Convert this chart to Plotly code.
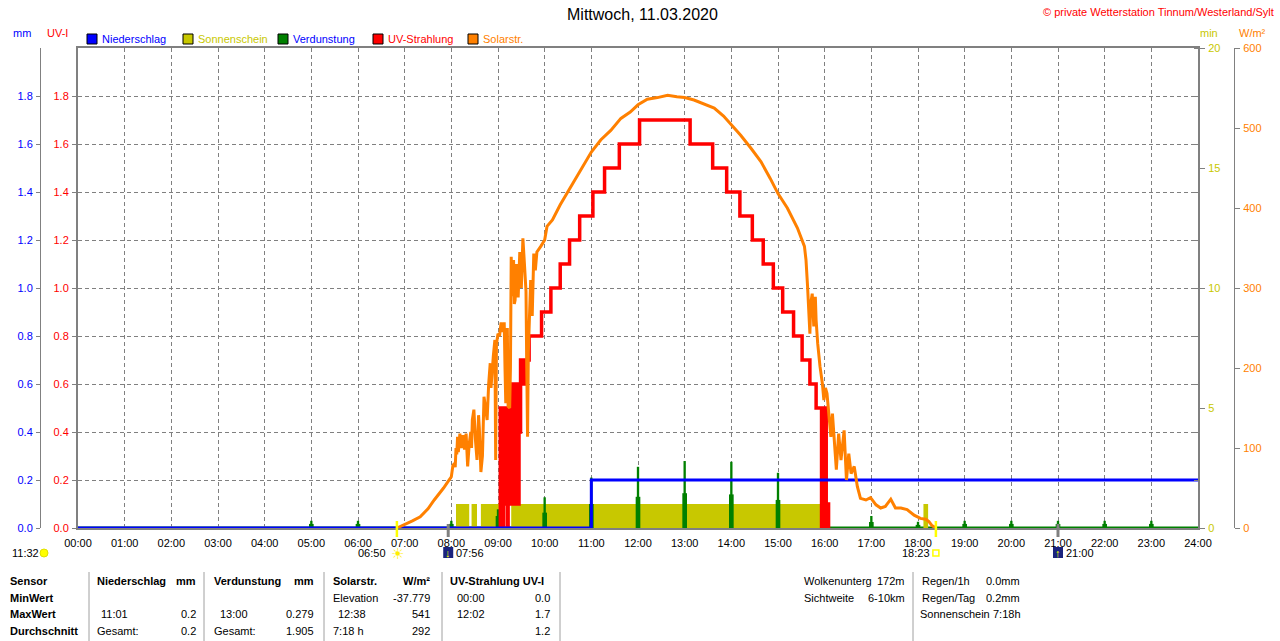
import plotly.graph_objects as go

# --- data -----------------------------------------------------------------
hour_ticks = list(range(25))
hour_labels = ["%02d:00" % h for h in hour_ticks]
mm_ticks = [0, 0.2, 0.4, 0.6, 0.8, 1.0, 1.2, 1.4, 1.6, 1.8]
mm_labels = ["0.0", "0.2", "0.4", "0.6", "0.8", "1.0", "1.2", "1.4", "1.6", "1.8"]
min_ticks = [0, 5, 10, 15, 20]
wm2_ticks = [0, 100, 200, 300, 400, 500, 600]

# Niederschlag (mm, cumulative)
rain_times = ["00:00", "11:00", "24:00"]
rain_vals = [0.0, 0.2, 0.2]

# Sonnenschein (min) as intervals
sun_start = ["08:06", "08:26", "08:38", "09:17", "18:07"]
sun_end = ["08:23", "08:33", "09:03", "15:58", "18:13"]
sun_vals = [1, 1, 1, 1, 1]

# Verdunstung (mm) hourly spikes
verd_times = ["05:00", "06:00", "08:00", "09:00", "10:00", "11:00", "12:00", "13:00",
              "14:00", "15:00", "16:00", "17:00", "18:00", "19:00", "20:00", "21:00",
              "22:00", "23:00"]
verd_vals = [0.03, 0.03, 0.03, 0.078, 0.128, 0.21, 0.255, 0.279,
             0.276, 0.23, 0.186, 0.05, 0.026, 0.03, 0.03, 0.03, 0.03, 0.03]
verd_low = [0.017, 0.017, 0.017, 0.05, 0.064, 0.10, 0.13, 0.145,
            0.14, 0.117, 0.10, 0.025, 0.013, 0.017, 0.017, 0.017, 0.017, 0.017]

# UV-Strahlung (UV-I)
uv_times = ["09:02", "09:03", "09:04", "09:05", "09:06", "09:07", "09:08", "09:09", "09:10",
            "09:11", "09:12", "09:13", "09:14", "09:15", "09:16", "09:17", "09:18", "09:19",
            "09:20", "09:21", "09:22", "09:23", "09:24", "09:25", "09:26", "09:27", "09:28",
            "09:29", "09:30", "09:31", "09:32", "09:33", "09:34", "09:35", "09:36", "09:37",
            "09:38", "09:39", "09:40", "09:56", "10:08", "10:20", "10:32", "10:45", "11:02",
            "11:17", "11:36", "12:02", "13:07", "13:36", "13:54", "14:11", "14:27", "14:41",
            "14:54", "15:06", "15:20", "15:31", "15:41", "15:49", "15:56", "15:57", "15:58",
            "15:59", "16:00", "16:01", "16:02", "16:03", "16:05"]
uv_vals = [0.0, 0.5, 0.1, 0.5, 0.0, 0.5, 0.1, 0.5, 0.1,
           0.5, 0.0, 0.5, 0.1, 0.5, 0.1, 0.6, 0.1, 0.6,
           0.1, 0.6, 0.1, 0.6, 0.1, 0.6, 0.1, 0.6, 0.4,
           0.7, 0.6, 0.7, 0.6, 0.7, 0.6, 0.7, 0.6, 0.7,
           0.8, 0.7, 0.8, 0.9, 1.0, 1.1, 1.2, 1.3, 1.4,
           1.5, 1.6, 1.7, 1.6, 1.5, 1.4, 1.3, 1.2, 1.1,
           1.0, 0.9, 0.8, 0.7, 0.6, 0.5, 0.0, 0.5, 0.0,
           0.5, 0.1, 0.5, 0.0, 0.1, 0.0]

# Solarstrahlung (W/m²)
solar_times = ["06:50", "06:55", "07:00", "07:10", "07:20", "07:30", "07:38", "07:45", "07:50",
               "07:55", "08:00", "08:02", "08:04", "08:05", "08:06", "08:07", "08:08", "08:09",
               "08:11", "08:12", "08:13", "08:15", "08:17", "08:19", "08:20", "08:21", "08:23",
               "08:25", "08:26", "08:27", "08:29", "08:30", "08:31", "08:33", "08:35", "08:36",
               "08:38", "08:40", "08:42", "08:44", "08:46", "08:48", "08:50", "08:51", "08:52",
               "08:54", "08:56", "08:57", "08:58", "09:00", "09:02", "09:04", "09:06", "09:08",
               "09:09", "09:10", "09:12", "09:13", "09:15", "09:16", "09:17", "09:18", "09:19",
               "09:20", "09:21", "09:22", "09:24", "09:25", "09:26", "09:28", "09:30", "09:32",
               "09:34", "09:36", "09:37", "09:38", "09:39", "09:40", "09:42", "09:44", "09:46",
               "09:48", "09:50", "09:55", "10:00", "10:03", "10:10", "10:20", "10:34", "10:46",
               "11:00", "11:12", "11:25", "11:38", "11:50", "12:00", "12:12", "12:25", "12:38",
               "12:50", "13:00", "13:12", "13:25", "13:38", "13:50", "14:00", "14:12", "14:25",
               "14:38", "14:50", "15:00", "15:12", "15:25", "15:34", "15:36", "15:38", "15:41",
               "15:42", "15:44", "15:46", "15:48", "15:49", "15:51", "15:54", "15:57", "15:59",
               "16:01", "16:03", "16:06", "16:08", "16:10", "16:13", "16:15", "16:18", "16:21",
               "16:25", "16:28", "16:31", "16:34", "16:38", "16:42", "16:46", "16:53", "16:59",
               "17:06", "17:12", "17:18", "17:25", "17:31", "17:38", "17:46", "17:55", "18:03",
               "18:10", "18:14", "18:18", "18:23"]
solar_vals = [0, 2, 4, 9, 14, 24, 35, 43, 50,
              57, 64, 78, 81, 76, 100, 92, 114, 95,
              118, 104, 100, 116, 98, 118, 96, 77, 105,
              120, 100, 135, 148, 125, 110, 85, 141, 125,
              70, 90, 164, 150, 135, 180, 206, 175, 190,
              215, 235, 85, 230, 243, 240, 257, 245, 257,
              200, 156, 250, 152, 150, 200, 339, 290, 300,
              335, 280, 285, 330, 290, 290, 345, 300, 362,
              330, 296, 200, 114, 220, 260, 310, 265, 343,
              322, 345, 352, 360, 377, 385, 404, 427, 447,
              470, 485, 497, 512, 520, 529, 536, 538, 541,
              539, 538, 535, 530, 525, 515, 504, 491, 475,
              458, 437, 418, 400, 375, 352, 335, 302, 243,
              280, 293, 252, 289, 260, 231, 202, 181, 160,
              175, 168, 135, 114, 143, 102, 73, 118, 85,
              122, 60, 93, 68, 77, 52, 37, 35, 38,
              29, 25, 27, 36, 25, 25, 23, 16, 12,
              11, 8, 3, 0]

# sun / moon events below the time axis
sun_events = ["06:50", "18:23"]
moon_events = ["07:56", "21:00"]

# --- helpers ----------------------------------------------------------------
W, H = 1280, 641
L, R, T, B = 78, 1198, 48, 528   # plot area in pixels
FONT = "Arial, Liberation Sans, sans-serif"
GRID = "#808080"
YEL = "#c8c800"
ORANGE = "#ff8000"


def hrs(t):
    h, m = t.split(":")
    return int(h) + int(m) / 60


def px(x):
    return x / W


def py(y):
    return (B - y) / (B - T)


fig = go.Figure()

sun_mid = [(hrs(a) + hrs(b)) / 2 for a, b in zip(sun_start, sun_end)]
sun_w = [hrs(b) - hrs(a) for a, b in zip(sun_start, sun_end)]
fig.add_trace(go.Bar(x=sun_mid, y=sun_vals, width=sun_w, marker_color=YEL,
                     marker_line_width=0, yaxis="y", name="Sonnenschein"))

vx = [hrs(t) for t in verd_times]
fig.add_trace(go.Bar(x=vx, y=verd_low, width=0.1, marker_color="#008000",
                     marker_line_width=0, yaxis="y2", name="Verdunstung"))
fig.add_trace(go.Bar(x=vx, y=verd_vals, width=0.05, marker_color="#008000",
                     marker_line_width=0, yaxis="y2", name="Verdunstung"))

fig.add_trace(go.Scatter(x=[hrs(t) for t in uv_times], y=uv_vals, mode="lines",
                         line=dict(color="#ff0000", width=3.5, shape="hv"),
                         yaxis="y2", name="UV-Strahlung"))

fig.add_trace(go.Scatter(x=[hrs(t) for t in rain_times], y=rain_vals, mode="lines",
                         line=dict(color="#0000ff", width=3, shape="hv"),
                         yaxis="y3", name="Niederschlag"))

fig.add_trace(go.Scatter(x=[hrs(t) for t in solar_times], y=solar_vals, mode="lines",
                         line=dict(color=ORANGE, width=3),
                         yaxis="y4", name="Solarstr."))

# green zero line of the evaporation series
fig.add_shape(type="line", xref="x", yref="y2", x0=0, x1=24, y0=0, y1=0,
              line=dict(color="#008000", width=3), layer="below")

fig.update_layout(
    width=W, height=H, autosize=False,
    margin=dict(l=0, r=0, t=T, b=H - B),
    plot_bgcolor="white", paper_bgcolor="white",
    showlegend=False, barmode="overlay", hovermode=False,
    font=dict(family=FONT, size=11, color="black"),
    xaxis=dict(domain=[px(L), px(R)], range=[0, 24], tickvals=hour_ticks,
               ticktext=hour_labels, showgrid=True, gridcolor=GRID, griddash="4px,3px",
               gridwidth=1, showline=True, mirror=True, linecolor=GRID, linewidth=2,
               ticks="", ticklabelstandoff=4, zeroline=False, automargin=False),
    yaxis=dict(range=[0, 20], tickvals=min_ticks, side="right", anchor="x",
               tickfont=dict(color=YEL), showgrid=False, zeroline=False,
               showline=True, mirror=True, linecolor=GRID, linewidth=2,
               ticks="outside", ticklen=5, tickcolor=GRID, ticklabelstandoff=1,
               minor=dict(ticks="inside", dtick=2, ticklen=4, tickcolor=GRID),
               automargin=False),
    yaxis2=dict(range=[0, 2], tickvals=mm_ticks, ticktext=mm_labels, side="left",
                overlaying="y", anchor="x", tickfont=dict(color="#ff0000"),
                showgrid=True, gridcolor=GRID, griddash="4px,3px", zeroline=False,
                ticks="outside", ticklen=5, tickcolor=GRID, ticklabelstandoff=1,
                automargin=False),
    yaxis3=dict(range=[0, 2], tickvals=mm_ticks, ticktext=mm_labels, side="left",
                overlaying="y", anchor="free", position=px(40),
                tickfont=dict(color="#0000ff"), showgrid=False, zeroline=False,
                showline=True, linecolor=GRID, linewidth=1, ticks="outside", ticklen=4,
                tickcolor=GRID, ticklabelstandoff=1, automargin=False),
    yaxis4=dict(range=[0, 600], tickvals=wm2_ticks, side="right",
                overlaying="y", anchor="free", position=px(1234),
                tickfont=dict(color=ORANGE), showgrid=False, zeroline=False,
                showline=True, linecolor=GRID, linewidth=1,
                ticks="outside", ticklen=5, tickcolor=GRID, ticklabelstandoff=1,
                automargin=False),
)


def text(s, x, y, color="black", size=11, anchor="left"):
    fig.add_annotation(text=s, x=px(x), y=py(y), xref="paper", yref="paper",
                       xanchor=anchor, yanchor="middle", showarrow=False,
                       font=dict(family=FONT, size=size, color=color))


# title and copyright
text("Mittwoch, 11.03.2020", 642, 15, size=16, anchor="center")
text("© private Wetterstation Tinnum/Westerland/Sylt", 1276, 12, color="#ff0000", anchor="right")

# axis units
text("mm", 22, 33, color="#0000ff", anchor="center")
text("UV-I", 57, 33, color="#ff0000", anchor="center")
text("min", 1209, 33, color=YEL, anchor="center")
text("W/m²", 1252, 33, color=ORANGE, anchor="center")

# legend
legend_items = [("Niederschlag", "#0000ff", "#0000ff", 87),
                ("Sonnenschein", YEL, YEL, 183),
                ("Verdunstung", "#008000", "#0000ff", 278),
                ("UV-Strahlung", "#ff0000", "#ff0000", 373),
                ("Solarstr.", ORANGE, ORANGE, 468)]
for name, box, col, x0 in legend_items:
    fig.add_shape(type="rect", xref="paper", yref="paper", x0=px(x0), x1=px(x0 + 10),
                  y0=py(44), y1=py(34), fillcolor=box, line=dict(color="black", width=1))
    text(name, x0 + 13, 39, color=col)

# sun / moon markers under the axis
for t in sun_events:
    fig.add_shape(type="line", xref="x", yref="paper", x0=hrs(t), x1=hrs(t),
                  y0=py(521), y1=py(537), line=dict(color="#ffff00", width=2.5))
for t in moon_events:
    fig.add_shape(type="line", xref="x", yref="paper", x0=hrs(t), x1=hrs(t),
                  y0=py(524), y1=py(537), line=dict(color=GRID, width=3))

text("11:32", 10, 553)
fig.add_shape(type="circle", xref="paper", yref="paper", x0=px(40), x1=px(48),
              y0=py(557), y1=py(549), fillcolor="#ffff00", line=dict(color="#e0e000", width=1))

rise = hrs(sun_events[0])
fig.add_annotation(text="☀", x=rise, y=py(553), xref="x", yref="paper", showarrow=False,
                   xanchor="center", yanchor="middle", xshift=1,
                   font=dict(size=15, color="#ffee00"))
fig.add_annotation(text=sun_events[0], x=rise, y=py(553), xref="x", yref="paper",
                   showarrow=False, xanchor="right", xshift=-9, yanchor="middle",
                   font=dict(family=FONT, size=11))

sset = hrs(sun_events[1])
fig.add_shape(type="rect", xref="x", yref="paper", xsizemode="pixel", xanchor=sset,
              x0=-3, x1=3, y0=py(556), y1=py(550), fillcolor="white",
              line=dict(color="#ffff00", width=1.5))
fig.add_annotation(text=sun_events[1], x=sset, y=py(553), xref="x", yref="paper",
                   showarrow=False, xanchor="right", xshift=-4, yanchor="middle",
                   font=dict(family=FONT, size=11))

for t, arrow in zip(moon_events, ["↓", "↑"]):
    h = hrs(t)
    fig.add_shape(type="rect", xref="x", yref="paper", xsizemode="pixel", xanchor=h,
                  x0=-5, x1=5, y0=py(558), y1=py(547), fillcolor="#1a237e",
                  line=dict(width=0))
    fig.add_annotation(text=arrow, x=h, y=py(553), xref="x", yref="paper", showarrow=False,
                       xanchor="center", yanchor="middle",
                       font=dict(size=11, color="#ffff00"))
    fig.add_annotation(text=t, x=h, y=py(553), xref="x", yref="paper", showarrow=False,
                       xanchor="left", xshift=6, yanchor="middle",
                       font=dict(family=FONT, size=11))

# statistics table
rows_y = [581, 598, 614, 631]
table_cells = [
    ("<b>Sensor</b>", 8, 0, "left"), ("<b>Niederschlag</b>", 95, 0, "left"),
    ("<b>mm</b>", 198, 0, "right"), ("<b>Verdunstung</b>", 212, 0, "left"),
    ("<b>mm</b>", 316, 0, "right"), ("<b>Solarstr.</b>", 331, 0, "left"),
    ("<b>W/m²</b>", 432, 0, "right"), ("<b>UV-Strahlung UV-I</b>", 448, 0, "left"),
    ("<b>MinWert</b>", 8, 1, "left"), ("Elevation", 331, 1, "left"),
    ("-37.779", 432, 1, "right"), ("00:00", 455, 1, "left"), ("0.0", 552, 1, "right"),
    ("<b>MaxWert</b>", 8, 2, "left"), ("11:01", 99, 2, "left"), ("0.2", 198, 2, "right"),
    ("13:00", 218, 2, "left"), ("0.279", 316, 2, "right"), ("12:38", 336, 2, "left"),
    ("541", 432, 2, "right"), ("12:02", 455, 2, "left"), ("1.7", 552, 2, "right"),
    ("<b>Durchschnitt</b>", 8, 3, "left"), ("Gesamt:", 95, 3, "left"),
    ("0.2", 198, 3, "right"), ("Gesamt:", 212, 3, "left"), ("1.905", 316, 3, "right"),
    ("7:18 h", 331, 3, "left"), ("292", 432, 3, "right"), ("1.2", 552, 3, "right"),
    ("Wolkenunterg", 802, 0, "left"), ("172m", 907, 0, "right"),
    ("Sichtweite", 802, 1, "left"), ("6-10km", 907, 1, "right"),
    ("Regen/1h", 920, 0, "left"), ("0.0mm", 1022, 0, "right"),
    ("Regen/Tag", 920, 1, "left"), ("0.2mm", 1022, 1, "right"),
    ("Sonnenschein", 918, 2, "left"), ("7:18h", 1023, 2, "right"),
]
for s, x, r, a in table_cells:
    text(s, x, rows_y[r], anchor=a)

for x in [89, 204, 324, 442, 560, 913]:
    fig.add_shape(type="line", xref="paper", yref="paper", x0=px(x), x1=px(x),
                  y0=py(572), y1=py(641), line=dict(color="#a0a0a0", width=1))

# the page should show the figure edge to edge, without the default body margin
fig.write_html("out.html", config={"displayModeBar": False},
               post_script="document.body.style.margin='0';"
                           "document.body.style.overflow='hidden';")
